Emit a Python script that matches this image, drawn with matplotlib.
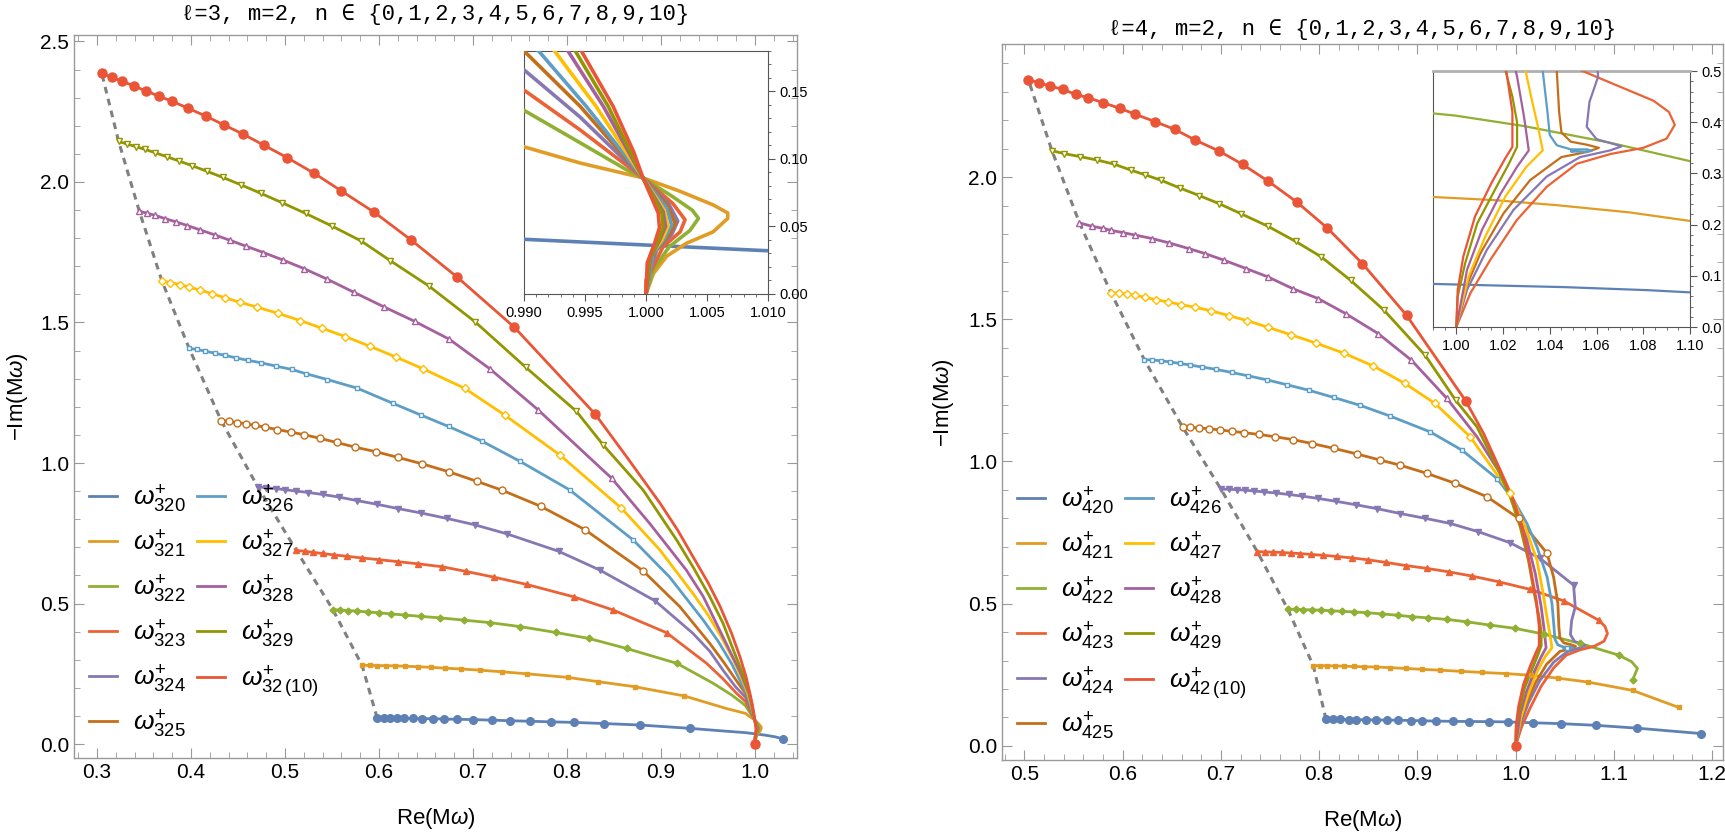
import matplotlib.pyplot as plt
from matplotlib.lines import Line2D
from matplotlib.ticker import MultipleLocator

plt.rcParams['font.family'] = ['Liberation Sans', 'DejaVu Sans']
plt.rcParams['mathtext.fontset'] = 'custom'
plt.rcParams['mathtext.rm'] = 'Liberation Sans'
plt.rcParams['mathtext.it'] = 'Liberation Sans:italic'

# colours / markers for n = 0..10 (Mathematica default palette)
colors = ['#5E81B5', '#E19C24', '#8FB032', '#EB6235', '#8778B3', '#C56E1A',
          '#5D9EC7', '#FFBF00', '#A5609D', '#929600', '#E95536']
markers = ['o', 's', 'D', '^', 'v', 'o', 's', 'D', '^', 'v', 'o']
filled = [True, True, True, True, True, False, False, False, False, False, True]
msizes = [5.5, 3.5, 3.5, 4, 4, 5, 3.5, 4, 4, 4, 6.5]

# ---------------- l=3, m=2 : (Re, -Im) ----------------
# body = marked points, tail = unmarked continuation (partly seen in the inset)
w320 = [(0.598, 0.093), (0.605, 0.0925), (0.612, 0.092), (0.619, 0.0918), (0.627, 0.0915),
        (0.636, 0.091), (0.646, 0.0905), (0.657, 0.090), (0.669, 0.089), (0.683, 0.088),
        (0.700, 0.087), (0.720, 0.085), (0.739, 0.083), (0.761, 0.081), (0.783, 0.079),
        (0.807, 0.077), (0.839, 0.073), (0.878, 0.0676), (0.931, 0.0558)]
w320_t = [(0.968, 0.046), (0.990, 0.0405), (1.010, 0.032), (1.021, 0.026), (1.030, 0.018)]
w321 = [(0.582, 0.280), (0.590, 0.280), (0.598, 0.279), (0.607, 0.279), (0.617, 0.278),
        (0.628, 0.277), (0.641, 0.275), (0.655, 0.273), (0.670, 0.270), (0.687, 0.267),
        (0.707, 0.263), (0.731, 0.257), (0.757, 0.250), (0.801, 0.237), (0.833, 0.222),
        (0.872, 0.204), (0.925, 0.171)]
w321_t = [(0.970, 0.126), (0.990, 0.109), (0.9946, 0.097), (0.99975, 0.086), (1.0028, 0.076),
          (1.0055, 0.066), (1.0067, 0.060), (1.0067, 0.056), (1.0055, 0.046), (1.0033, 0.0375),
          (1.0017, 0.028), (1.0006, 0.015), (1.0002, 0.005), (1.0, 0.0)]
w322 = [(0.551, 0.478), (0.559, 0.477), (0.567, 0.475), (0.577, 0.473), (0.588, 0.470),
        (0.600, 0.467), (0.613, 0.463), (0.628, 0.459), (0.645, 0.454), (0.665, 0.449),
        (0.690, 0.441), (0.718, 0.432), (0.750, 0.418), (0.788, 0.397), (0.823, 0.376),
        (0.8635, 0.340), (0.917, 0.287)]
w322_t = [(0.9556, 0.216), (0.975, 0.175), (0.9865, 0.146), (0.990, 0.136), (0.9946, 0.112),
          (0.9984, 0.092), (0.99975, 0.086), (1.0022, 0.072), (1.0038, 0.062), (1.0043, 0.056),
          (1.0036, 0.047), (1.0019, 0.035), (1.0006, 0.018), (1.0, 0.0)]
w323 = [(0.512, 0.689), (0.521, 0.686), (0.530, 0.682), (0.540, 0.678), (0.552, 0.673),
        (0.566, 0.668), (0.582, 0.662), (0.600, 0.656), (0.620, 0.649), (0.642, 0.641),
        (0.667, 0.631), (0.693, 0.614), (0.722, 0.594), (0.757, 0.568), (0.807, 0.524),
        (0.849, 0.477), (0.906, 0.396)]
w323_t = [(0.9486, 0.287), (0.966, 0.232), (0.980, 0.182), (0.990, 0.151), (0.9946, 0.1215),
          (0.99975, 0.086), (1.0022, 0.067), (1.0032, 0.055), (1.0028, 0.046), (1.0014, 0.035),
          (1.0003, 0.015), (1.0, 0.0)]
w324 = [(0.471, 0.915), (0.480, 0.912), (0.490, 0.909), (0.500, 0.905), (0.512, 0.900),
        (0.525, 0.895), (0.540, 0.888), (0.557, 0.879), (0.577, 0.866), (0.598, 0.853),
        (0.620, 0.838), (0.645, 0.822), (0.672, 0.803), (0.702, 0.780), (0.736, 0.748),
        (0.791, 0.686), (0.835, 0.619), (0.894, 0.509)]
w324_t = [(0.934, 0.394), (0.952, 0.330), (0.966, 0.263), (0.979, 0.205), (0.990, 0.166),
          (0.9946, 0.131), (0.99975, 0.086), (1.0019, 0.066), (1.0026, 0.054), (1.0021, 0.044),
          (1.0009, 0.033), (1.0001, 0.013), (1.0, 0.0)]
w325 = [(0.432, 1.151), (0.440, 1.148), (0.449, 1.144), (0.458, 1.140), (0.468, 1.134),
        (0.479, 1.127), (0.492, 1.119), (0.506, 1.110), (0.520, 1.101), (0.537, 1.088),
        (0.555, 1.073), (0.575, 1.056), (0.597, 1.040), (0.620, 1.020), (0.646, 0.997),
        (0.675, 0.968), (0.704, 0.935), (0.731, 0.903), (0.772, 0.846), (0.819, 0.763),
        (0.881, 0.616)]
w325_t = [(0.920, 0.489), (0.952, 0.358), (0.967, 0.290), (0.981, 0.222), (0.990, 0.180),
          (0.9946, 0.139), (0.99975, 0.086), (1.0018, 0.065), (1.0024, 0.052), (1.0018, 0.0425),
          (1.0007, 0.031), (1.0, 0.010), (1.0, 0.0)]
w326 = [(0.398, 1.408), (0.406, 1.404), (0.415, 1.398), (0.425, 1.391), (0.436, 1.383),
        (0.448, 1.374), (0.461, 1.365), (0.474, 1.357), (0.490, 1.345), (0.507, 1.333),
        (0.522, 1.318), (0.545, 1.297), (0.577, 1.266), (0.615, 1.212), (0.645, 1.170),
        (0.674, 1.130), (0.710, 1.077), (0.750, 1.006), (0.803, 0.904), (0.8705, 0.726)]
w326_t = [(0.909, 0.595), (0.945, 0.441), (0.961, 0.365), (0.975, 0.287), (0.985, 0.220),
          (0.9912, 0.180), (0.9951, 0.139), (0.99975, 0.086), (1.0017, 0.0635), (1.0021, 0.051),
          (1.0015, 0.041), (1.0006, 0.030), (1.0, 0.0)]
w327 = [(0.369, 1.648), (0.378, 1.642), (0.388, 1.635), (0.398, 1.626), (0.410, 1.615),
        (0.422, 1.603), (0.436, 1.588), (0.452, 1.572), (0.470, 1.555), (0.493, 1.532),
        (0.516, 1.507), (0.539, 1.480), (0.564, 1.450), (0.590, 1.416), (0.618, 1.377),
        (0.647, 1.335), (0.691, 1.266), (0.734, 1.170), (0.7926, 1.028), (0.858, 0.839)]
w327_t = [(0.899, 0.690), (0.934, 0.536), (0.950, 0.460), (0.964, 0.382), (0.977, 0.300),
          (0.987, 0.225), (0.9925, 0.180), (0.9959, 0.139), (0.99975, 0.086), (1.0015, 0.062),
          (1.0018, 0.050), (1.0013, 0.040), (1.0004, 0.029), (1.0, 0.0)]
w328 = [(0.345, 1.896), (0.353, 1.889), (0.362, 1.881), (0.372, 1.870), (0.384, 1.858),
        (0.396, 1.845), (0.410, 1.829), (0.425, 1.812), (0.441, 1.793), (0.458, 1.772),
        (0.477, 1.749), (0.498, 1.722), (0.520, 1.692), (0.545, 1.654), (0.573, 1.608),
        (0.605, 1.556), (0.638, 1.504), (0.675, 1.440), (0.718, 1.335), (0.769, 1.190),
        (0.8475, 0.946)]
w328_t = [(0.888, 0.785), (0.927, 0.619), (0.945, 0.525), (0.959, 0.429), (0.972, 0.340),
          (0.985, 0.251), (0.9936, 0.180), (0.9965, 0.139), (0.99975, 0.086), (1.0014, 0.061),
          (1.0016, 0.050), (1.0011, 0.0395), (1.0004, 0.028), (1.0, 0.0)]
w329 = [(0.323, 2.144), (0.332, 2.135), (0.341, 2.126), (0.351, 2.116), (0.362, 2.104),
        (0.374, 2.090), (0.387, 2.075), (0.401, 2.058), (0.417, 2.038), (0.434, 2.016),
        (0.453, 1.990), (0.474, 1.960), (0.497, 1.926), (0.522, 1.888), (0.550, 1.843),
        (0.581, 1.790), (0.612, 1.720), (0.653, 1.630), (0.702, 1.503), (0.756, 1.341),
        (0.810, 1.184), (0.8386, 1.064)]
w329_t = [(0.881, 0.904), (0.9167, 0.726), (0.935, 0.625), (0.952, 0.524), (0.966, 0.430),
          (0.977, 0.335), (0.987, 0.250), (0.9942, 0.180), (0.9969, 0.139), (0.99975, 0.086),
          (1.0013, 0.060), (1.0014, 0.049), (1.0010, 0.039), (1.0003, 0.026), (1.0, 0.0)]
w3210 = [(0.305, 2.387), (0.316, 2.372), (0.327, 2.358), (0.339, 2.342), (0.352, 2.324),
         (0.366, 2.305), (0.380, 2.287), (0.397, 2.262), (0.416, 2.234), (0.435, 2.203),
         (0.455, 2.171), (0.478, 2.130), (0.502, 2.087), (0.531, 2.031), (0.560, 1.968),
         (0.595, 1.892), (0.634, 1.794), (0.683, 1.662), (0.744, 1.483), (0.830, 1.174)]
w3210_t = [(0.8635, 1.022), (0.899, 0.857), (0.918, 0.760), (0.934, 0.667), (0.950, 0.575),
           (0.963, 0.489), (0.975, 0.395), (0.984, 0.311), (0.9905, 0.240), (0.9947, 0.180),
           (0.9973, 0.139), (0.9990, 0.105), (0.99975, 0.086), (1.0010, 0.060), (1.0011, 0.049),
           (1.0007, 0.0375), (1.0001, 0.023), (1.0, 0.0)]

# ---------------- l=4, m=2 ----------------
w420 = [(0.807, 0.093), (0.814, 0.093), (0.821, 0.093), (0.830, 0.0925), (0.838, 0.092),
        (0.848, 0.0915), (0.858, 0.091), (0.869, 0.0905), (0.880, 0.090), (0.893, 0.089),
        (0.905, 0.088), (0.919, 0.087), (0.936, 0.086), (0.953, 0.0855), (0.973, 0.085),
        (0.992, 0.084), (1.018, 0.081), (1.046, 0.078), (1.082, 0.072), (1.124, 0.062),
        (1.189, 0.043)]
w420_t = []
w421 = [(0.794, 0.282), (0.801, 0.282), (0.808, 0.2815), (0.816, 0.281), (0.825, 0.280),
        (0.835, 0.279), (0.846, 0.278), (0.858, 0.277), (0.872, 0.275), (0.888, 0.272),
        (0.905, 0.269), (0.923, 0.266), (0.944, 0.262), (0.966, 0.258), (0.990, 0.254),
        (1.016, 0.248), (1.043, 0.238), (1.074, 0.224), (1.119, 0.195), (1.166, 0.135)]
w421_t = []
w422 = [(0.768, 0.481), (0.776, 0.480), (0.784, 0.479), (0.793, 0.478), (0.802, 0.477),
        (0.812, 0.475), (0.823, 0.473), (0.835, 0.471), (0.849, 0.468), (0.864, 0.464),
        (0.880, 0.459), (0.8944, 0.454), (0.9113, 0.450), (0.930, 0.4445), (0.9504, 0.436),
        (0.974, 0.4245), (0.9996, 0.413), (1.0284, 0.393), (1.0658, 0.360), (1.1048, 0.319)]
w422_t = [(1.118, 0.296), (1.124, 0.272), (1.119, 0.231)]
w423 = [(0.737, 0.683), (0.745, 0.682), (0.753, 0.681), (0.762, 0.680), (0.771, 0.678),
        (0.781, 0.676), (0.792, 0.673), (0.804, 0.670), (0.818, 0.666), (0.833, 0.661),
        (0.850, 0.654), (0.868, 0.645), (0.888, 0.634), (0.9097, 0.624), (0.9317, 0.612),
        (0.9555, 0.597), (0.9826, 0.577), (1.0149, 0.550), (1.0488, 0.510), (1.0844, 0.442)]
w423_t = [(1.091, 0.420), (1.0935, 0.395), (1.090, 0.368), (1.080, 0.350), (1.066, 0.338),
          (1.0516, 0.319), (1.0387, 0.274), (1.0259, 0.209), (1.0145, 0.131), (1.006, 0.066),
          (1.0, 0.0)]
w424 = [(0.700, 0.903), (0.708, 0.902), (0.716, 0.901), (0.725, 0.899), (0.734, 0.896),
        (0.744, 0.893), (0.756, 0.889), (0.769, 0.884), (0.783, 0.878), (0.799, 0.870),
        (0.817, 0.860), (0.837, 0.848), (0.859, 0.834), (0.8825, 0.817), (0.908, 0.800),
        (0.9334, 0.782), (0.962, 0.753), (0.9945, 0.714), (1.025, 0.659), (1.059, 0.565)]
w424_t = [(1.0607, 0.489), (1.057, 0.440), (1.0558, 0.391), (1.060, 0.367), (1.0708, 0.353),
          (1.0658, 0.345), (1.053, 0.332), (1.0387, 0.294), (1.0245, 0.229), (1.0131, 0.151),
          (1.0046, 0.073), (1.0, 0.0)]
w425 = [(0.661, 1.121), (0.669, 1.120), (0.678, 1.118), (0.688, 1.115), (0.699, 1.111),
        (0.711, 1.106), (0.724, 1.101), (0.739, 1.095), (0.755, 1.087), (0.773, 1.077),
        (0.793, 1.063), (0.815, 1.046), (0.839, 1.026), (0.862, 1.005), (0.8825, 0.987),
        (0.9097, 0.958), (0.9385, 0.923), (0.9708, 0.876), (1.003, 0.800), (1.032, 0.677)]
w425_t = [(1.0386, 0.594), (1.043, 0.500), (1.044, 0.420), (1.045, 0.380), (1.049, 0.362),
          (1.056, 0.356), (1.061, 0.350), (1.056, 0.342), (1.045, 0.332), (1.0316, 0.287),
          (1.0202, 0.222), (1.0103, 0.144), (1.0031, 0.066), (1.0, 0.0)]
w426 = [(0.622, 1.358), (0.630, 1.357), (0.639, 1.354), (0.648, 1.350), (0.658, 1.345),
        (0.669, 1.339), (0.681, 1.332), (0.695, 1.324), (0.711, 1.313), (0.728, 1.301),
        (0.747, 1.287), (0.767, 1.270), (0.790, 1.250), (0.815, 1.225), (0.842, 1.197),
        (0.872, 1.160), (0.913, 1.104), (0.9453, 1.040), (0.981, 0.940)]
w426_t = [(0.998, 0.864), (1.0115, 0.782), (1.0217, 0.700), (1.032, 0.594), (1.037, 0.500),
          (1.039, 0.420), (1.040, 0.375), (1.043, 0.355), (1.049, 0.347), (1.056, 0.347),
          (1.058, 0.344), (1.055, 0.342), (1.049, 0.343), (1.052, 0.345)]
w427 = [(0.588, 1.594), (0.596, 1.592), (0.604, 1.589), (0.613, 1.584), (0.623, 1.577),
        (0.634, 1.569), (0.646, 1.561), (0.659, 1.552), (0.674, 1.542), (0.690, 1.530),
        (0.708, 1.513), (0.727, 1.495), (0.748, 1.472), (0.771, 1.446), (0.797, 1.416),
        (0.825, 1.381), (0.855, 1.336), (0.887, 1.275), (0.918, 1.204), (0.9537, 1.087),
        (0.9945, 0.888)]
w427_t = [(1.0098, 0.770), (1.0217, 0.653), (1.028, 0.536), (1.032, 0.450), (1.035, 0.390),
          (1.037, 0.345), (1.030, 0.313), (1.021, 0.255), (1.0124, 0.177), (1.0053, 0.099),
          (1.0, 0.0)]
w428 = [(0.556, 1.839), (0.569, 1.827), (0.580, 1.820), (0.588, 1.813), (0.600, 1.805),
        (0.613, 1.796), (0.630, 1.784), (0.647, 1.769), (0.667, 1.749), (0.684, 1.731),
        (0.703, 1.708), (0.726, 1.678), (0.748, 1.649), (0.773, 1.608), (0.799, 1.573),
        (0.827, 1.520), (0.860, 1.450), (0.894, 1.356), (0.930, 1.222)]
w428_t = [(0.9606, 1.087), (0.9843, 0.958), (0.9996, 0.840), (1.0115, 0.723), (1.020, 0.606),
          (1.026, 0.489), (1.029, 0.410), (1.031, 0.345), (1.026, 0.313), (1.019, 0.261),
          (1.011, 0.190), (1.0046, 0.112), (1.0, 0.0)]
w429 = [(0.528, 2.093), (0.540, 2.083), (0.557, 2.072), (0.574, 2.060), (0.591, 2.046),
        (0.608, 2.025), (0.623, 2.008), (0.639, 1.989), (0.658, 1.962), (0.678, 1.935),
        (0.698, 1.907), (0.720, 1.872), (0.748, 1.827), (0.776, 1.774), (0.802, 1.720),
        (0.832, 1.637), (0.866, 1.532), (0.908, 1.373), (0.939, 1.215)]
w429_t = [(0.9606, 1.122), (0.981, 0.981), (0.9945, 0.876), (1.0047, 0.770), (1.013, 0.653),
          (1.019, 0.536), (1.024, 0.450), (1.026, 0.400), (1.026, 0.352), (1.0225, 0.319),
          (1.0165, 0.268), (1.009, 0.203), (1.0038, 0.125), (1.0006, 0.060), (1.0, 0.0)]
w4210 = [(0.504, 2.342), (0.515, 2.332), (0.526, 2.320), (0.539, 2.309), (0.552, 2.291),
         (0.565, 2.279), (0.580, 2.262), (0.597, 2.242), (0.613, 2.221), (0.633, 2.195),
         (0.653, 2.168), (0.674, 2.130), (0.698, 2.092), (0.722, 2.045), (0.748, 1.986),
         (0.777, 1.913), (0.808, 1.822), (0.844, 1.696), (0.889, 1.514), (0.949, 1.214)]
w4210_t = [(0.9673, 1.099), (0.9843, 0.970), (0.9979, 0.864), (1.008, 0.747), (1.0149, 0.630),
           (1.021, 0.512), (1.024, 0.420), (1.024, 0.352), (1.021, 0.330), (1.015, 0.281),
           (1.008, 0.216), (1.003, 0.138), (1.0006, 0.073), (1.0, 0.0)]

l3_body = [w320, w321, w322, w323, w324, w325, w326, w327, w328, w329, w3210]
l3_tail = [w320_t, w321_t, w322_t, w323_t, w324_t, w325_t, w326_t, w327_t, w328_t, w329_t, w3210_t]
l4_body = [w420, w421, w422, w423, w424, w425, w426, w427, w428, w429, w4210]
l4_tail = [w420_t, w421_t, w422_t, w423_t, w424_t, w425_t, w426_t, w427_t, w428_t, w429_t, w4210_t]

l3_labels = [r'$\omega^{+}_{32%d}$' % n for n in range(10)] + [r'$\omega^{+}_{32\,(10)}$']
l4_labels = [r'$\omega^{+}_{42%d}$' % n for n in range(10)] + [r'$\omega^{+}_{42\,(10)}$']

FRAME = '#999999'


def mathematica_frame(ax, xmaj, xmin, ymaj, ymin, size=13):
    for s in ax.spines.values():
        s.set_color(FRAME)
        s.set_linewidth(1.0)
    ax.xaxis.set_major_locator(MultipleLocator(xmaj))
    ax.xaxis.set_minor_locator(MultipleLocator(xmin))
    ax.yaxis.set_major_locator(MultipleLocator(ymaj))
    ax.yaxis.set_minor_locator(MultipleLocator(ymin))
    ax.tick_params(which='both', direction='in', top=True, right=True, color=FRAME,
                   labelsize=size, labelcolor='black')
    ax.tick_params(which='major', length=7)
    ax.tick_params(which='minor', length=4)


def draw_curves(ax, bodies, tails, lw, with_markers):
    for n in range(11):
        body, tail = bodies[n], tails[n]
        pts = body + tail
        ax.plot([p[0] for p in pts], [p[1] for p in pts], color=colors[n], lw=lw,
                solid_capstyle='round', solid_joinstyle='round', zorder=3)
        if with_markers:
            mk = body + tail[-1:]
            ax.plot([p[0] for p in mk], [p[1] for p in mk], ls='none', marker=markers[n],
                    ms=msizes[n], mec=colors[n], mew=1.0,
                    mfc=colors[n] if filled[n] else 'white', zorder=4)


def panel(rect, bodies, tails, labels, title, xlim, ylim, ylabel_x, title_y, inset_rect,
          ilim, itick, ilw):
    ax = fig.add_axes(rect)
    # dashed line through the first points of every overtone
    starts = [b[0] for b in bodies]
    ax.plot([p[0] for p in starts], [p[1] for p in starts], ls=(0, (2.2, 1.8)),
            color='#808080', lw=2.2, zorder=2)
    draw_curves(ax, bodies, tails, 2.0, True)
    ax.set_xlim(*xlim)
    ax.set_ylim(*ylim)
    mathematica_frame(ax, 0.1, 0.02, 0.5, 0.1, 15)
    ax.set_xlabel(r'Re(M$\omega$)', fontsize=16, labelpad=17)
    ax.set_ylabel(r'$-$Im(M$\omega$)', fontsize=16)
    ax.yaxis.set_label_coords(ylabel_x, 0.5)
    fig.text(rect[0] + rect[2] / 2, title_y, title, ha='center', va='center', fontsize=16,
             family=['Liberation Mono', 'DejaVu Sans Mono'])

    handles = [Line2D([], [], color=c, lw=2) for c in colors]
    ax.legend(handles, labels, ncol=2, loc='lower left', bbox_to_anchor=(-0.012, -0.008),
              frameon=False, fontsize=19, handlelength=1.05, handletextpad=0.6,
              labelspacing=0.48, columnspacing=0.45)

    axi = fig.add_axes(inset_rect)
    draw_curves(axi, bodies, tails, ilw, False)
    axi.set_xlim(*ilim[0])
    axi.set_ylim(*ilim[1])
    for s in axi.spines.values():
        s.set_color('#555555')
    axi.xaxis.set_major_locator(MultipleLocator(itick[0]))
    axi.xaxis.set_minor_locator(MultipleLocator(itick[1]))
    axi.yaxis.set_major_locator(MultipleLocator(itick[2]))
    axi.yaxis.set_minor_locator(MultipleLocator(itick[3]))
    axi.yaxis.tick_right()
    axi.tick_params(which='both', direction='out', labelsize=10.5, color='#555555',
                    left=False, top=False)
    axi.tick_params(which='major', length=5)
    axi.tick_params(which='minor', length=2.5)
    axi.xaxis.set_major_formatter(plt.FormatStrFormatter(itick[4]))
    axi.yaxis.set_major_formatter(plt.FormatStrFormatter(itick[5]))
    return axi


fig = plt.figure(figsize=(17.25, 8.33), dpi=100)

panel([0.0429, 0.090, 0.4191, 0.868], l3_body, l3_tail, l3_labels,
      '\u2113=3, m=2, n \u2208 {0,1,2,3,4,5,6,7,8,9,10}',
      (0.2755, 1.0447), (-0.0498, 2.523), -0.061, 0.982,
      [0.3038, 0.6471, 0.1414, 0.2917],
      ((0.99, 1.01), (0.0, 0.18)), (0.005, 0.001, 0.05, 0.01, '%.3f', '%.2f'), 2.6)

axi4 = panel([0.5809, 0.0876, 0.4180, 0.8595], l4_body, l4_tail, l4_labels,
             '\u2113=4, m=2, n \u2208 {0,1,2,3,4,5,6,7,8,9,10}',
             (0.4772, 1.2112), (-0.050, 2.468), -0.064, 0.965,
             [0.8307, 0.6074, 0.1490, 0.3073],
             ((0.99, 1.10), (0.0, 0.5)), (0.02, 0.005, 0.1, 0.02, '%.2f', '%.1f'), 1.6)
axi4.spines['top'].set_color('#b0b0b0')
axi4.spines['top'].set_linewidth(2.0)

fig.savefig('out.png', dpi=100)
